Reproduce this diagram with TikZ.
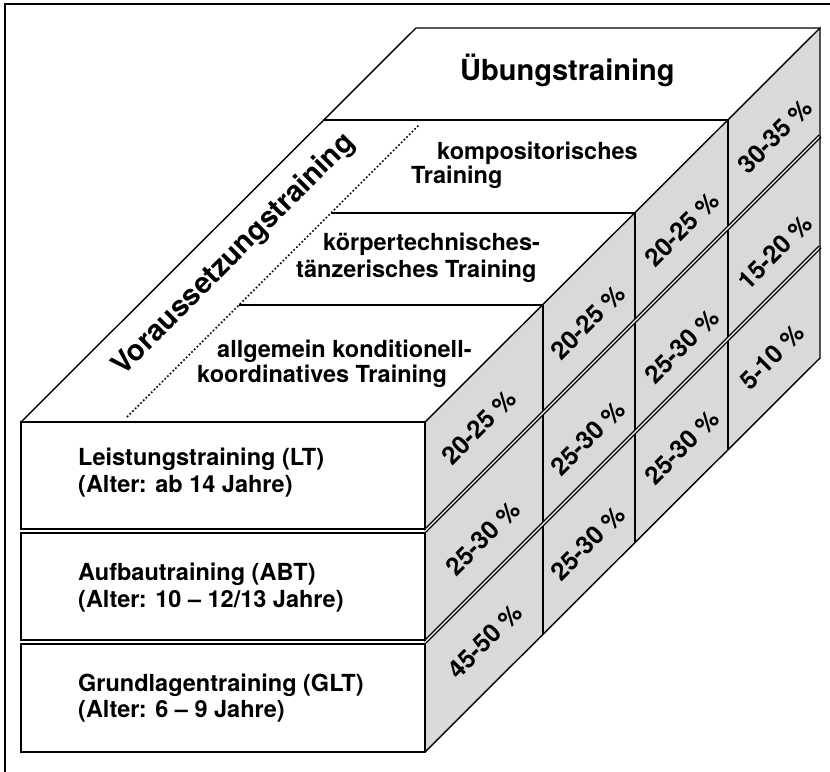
\documentclass[tikz,border=0pt]{standalone}
\usepackage{fontspec}
\setmainfont{TeX Gyre Heros}
\definecolor{facegray}{gray}{0.85}
\begin{document}
\begin{tikzpicture}[x=1bp,y=-1bp,
  edge/.style={line width=1.4bp, line join=miter},
  lbl/.style={font=\fontsize{23.5bp}{27bp}\selectfont\bfseries, anchor=base west, inner sep=0pt},
  pct/.style={font=\fontsize{25bp}{27bp}\selectfont\bfseries, rotate=45, inner sep=0pt},
  bigtxt/.style={font=\fontsize{29bp}{32bp}\selectfont\bfseries, inner sep=0pt},
  dbl/.style={line width=4bp},
  dblin/.style={white, line width=1.3bp}]
\useasboundingbox (0,0) rectangle (830,772);
% frame (cropped)
\draw[line width=1.4bp] (832,4) -- (5,4) -- (5,774);
% right face
\fill[facegray] (425,422) -- (820,28) -- (820,358) -- (425,752) -- cycle;
\draw[edge] (543,304) -- (543,634);
\draw[edge] (635,212) -- (635,542);
\draw[edge] (728,119) -- (728,449);
\draw[dbl] (425,531) -- (820,136);
\draw[dblin] (425,531) -- (820,136);
\draw[dbl] (425,642) -- (820,247);
\draw[dblin] (425,642) -- (820,247);
\draw[edge] (425,422) -- (820,28) -- (820,358) -- (425,752);
% top face
\draw[edge] (21,422) -- (416,28) -- (820,28);
\draw[edge] (323,120) -- (728,120);
\draw[edge] (331,213) -- (635,213);
\draw[edge] (239,305) -- (543,305);
\draw[line width=1.6bp, dash pattern=on 1.6bp off 2.2bp] (127,417) -- (419,125);
% front boxes
\draw[edge, fill=white] (21,422) rectangle (425,529);
\draw[edge, fill=white] (21,533) rectangle (425,640);
\draw[edge, fill=white] (21,644) rectangle (425,752);
% front texts
\node[lbl] (lt1) at (78,465) {Leistungstraining (LT)};
\node[lbl] (lt2) at (78,492) {(Alter: ab 14 Jahre)};
\node[lbl] (abt1) at (78,580) {Aufbautraining (ABT)};
\node[lbl] (abt2) at (78,607) {(Alter: 10 – 12/13 Jahre)};
\node[lbl] (glt1) at (78,691) {Grundlagentraining (GLT)};
\node[lbl] (glt2) at (78,717) {(Alter: 6 – 9 Jahre)};
% top texts
\node[bigtxt, anchor=base west] (ueb) at (460,81) {Übungstraining};
\node[lbl] (komp1) at (437,159) {kompositorisches};
\node[lbl] (komp2) at (411,183) {Training};
\node[lbl] (koerp1) at (323,250) {körpertechnisches-};
\node[lbl] (koerp2) at (296,277) {tänzerisches Training};
\node[lbl] (allg1) at (217,357) {allgemein konditionell-};
\node[lbl] (allg2) at (197,382) {koordinatives Training};
\node[bigtxt, rotate=45] (vor) at (234,255) {Voraussetzungstraining};
% percentages
\node[pct] (p11) at (479,427) {20-25 \%};
\node[pct] (p12) at (483,538) {25-30 \%};
\node[pct] (p13) at (485,641) {45-50 \%};
\node[pct] (p21) at (588,322) {20-25 \%};
\node[pct] (p22) at (588,438) {25-30 \%};
\node[pct] (p23) at (588,543) {25-30 \%};
\node[pct] (p31) at (682,229) {20-25 \%};
\node[pct] (p32) at (682,346) {25-30 \%};
\node[pct] (p33) at (682,447) {25-30 \%};
\node[pct] (p41) at (775,136) {30-35 \%};
\node[pct] (p42) at (775,252) {15-20 \%};
\node[pct] (p43) at (772,357) {5-10 \%};
\end{tikzpicture}
\end{document}
